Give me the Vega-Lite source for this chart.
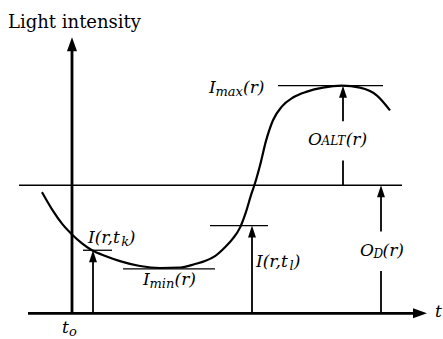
{
  "$schema": "https://vega.github.io/schema/vega-lite/v6.json",
  "width": 443,
  "height": 339,
  "padding": 0,
  "autosize": {"type": "fit", "contains": "padding"},
  "background": "white",
  "config": {"view": {"stroke": null}, "text": {"font": "DejaVu Serif"}},
  "datasets": {
    "curve": [
      {"x": -30, "y": 123}, {"x": -19, "y": 104}, {"x": -10, "y": 91},
      {"x": 0, "y": 80}, {"x": 10, "y": 71}, {"x": 20, "y": 64},
      {"x": 34, "y": 58}, {"x": 48, "y": 53}, {"x": 68, "y": 48},
      {"x": 88, "y": 46}, {"x": 108, "y": 46.5}, {"x": 123, "y": 50},
      {"x": 133, "y": 53}, {"x": 143, "y": 58}, {"x": 153, "y": 67},
      {"x": 161, "y": 76}, {"x": 168, "y": 87}, {"x": 174, "y": 103},
      {"x": 179, "y": 120}, {"x": 183, "y": 132}, {"x": 188, "y": 150},
      {"x": 194, "y": 175}, {"x": 201, "y": 196}, {"x": 210, "y": 210},
      {"x": 221, "y": 219}, {"x": 235, "y": 225}, {"x": 251, "y": 229},
      {"x": 270, "y": 231}, {"x": 288, "y": 229}, {"x": 305, "y": 221},
      {"x": 318, "y": 206}
    ],
    "segments": [
      {"kind": "axis", "x": 0, "y": 0, "x2": 0, "y2": 268},
      {"kind": "axis", "x": -44, "y": 0, "x2": 342, "y2": 0},
      {"kind": "guide", "x": -53, "y": 130, "x2": 330, "y2": 130},
      {"kind": "guide", "x": 206, "y": 231, "x2": 311, "y2": 231},
      {"kind": "guide", "x": 51, "y": 45, "x2": 143, "y2": 45},
      {"kind": "guide", "x": 138, "y": 89, "x2": 196, "y2": 89},
      {"kind": "guide", "x": 11, "y": 64, "x2": 40, "y2": 64},
      {"kind": "stem", "x": 21, "y": 0, "x2": 21, "y2": 56},
      {"kind": "stem", "x": 180, "y": 0, "x2": 180, "y2": 81},
      {"kind": "stem", "x": 309, "y": 0, "x2": 309, "y2": 43},
      {"kind": "stem", "x": 309, "y": 83, "x2": 309, "y2": 122},
      {"kind": "stem", "x": 271, "y": 130, "x2": 271, "y2": 155},
      {"kind": "stem", "x": 271, "y": 195, "x2": 271, "y2": 223}
    ],
    "heads": [
      {"kind": "axis", "dir": "up", "x": 0, "y": 273},
      {"kind": "axis", "dir": "right", "x": 348, "y": 0},
      {"kind": "stem", "dir": "up", "x": 21, "y": 58},
      {"kind": "stem", "dir": "up", "x": 180, "y": 83},
      {"kind": "stem", "dir": "up", "x": 309, "y": 124},
      {"kind": "stem", "dir": "up", "x": 271, "y": 225}
    ],
    "labels": [
      {"role": "title", "x": -64, "y": 290, "text": "Light intensity"},
      {"role": "main", "x": 137, "y": 224, "text": "I"},
      {"role": "sub", "x": 143.5, "y": 221, "text": "max"},
      {"role": "main", "x": 171, "y": 224, "text": "(r)"},
      {"role": "main", "x": 236, "y": 171, "text": "O"},
      {"role": "caps", "x": 249.6, "y": 171, "text": "ALT"},
      {"role": "main", "x": 273.7, "y": 171, "text": "(r)"},
      {"role": "main", "x": 288, "y": 58, "text": "O"},
      {"role": "caps", "x": 301.4, "y": 56, "text": "D"},
      {"role": "main", "x": 310.6, "y": 58, "text": "(r)"},
      {"role": "main", "x": 184, "y": 47, "text": "I(r,t"},
      {"role": "sub", "x": 217.5, "y": 44, "text": "l"},
      {"role": "main", "x": 221.7, "y": 47, "text": ")"},
      {"role": "main", "x": 16, "y": 71, "text": "I(r,t"},
      {"role": "sub", "x": 49.3, "y": 68, "text": "k"},
      {"role": "main", "x": 56.8, "y": 71, "text": ")"},
      {"role": "main", "x": 71, "y": 29, "text": "I"},
      {"role": "sub", "x": 77.5, "y": 26, "text": "min"},
      {"role": "main", "x": 102.5, "y": 29, "text": "(r)"},
      {"role": "main", "x": -10, "y": -20, "text": "t"},
      {"role": "sub", "x": -3, "y": -23, "text": "o"},
      {"role": "main", "x": 363, "y": -4, "text": "t"}
    ]
  },
  "layer": [
    {
      "data": {"name": "curve"},
      "mark": {"type": "line", "interpolate": "monotone", "color": "black", "strokeWidth": 2.2},
      "encoding": {
        "x": {"field": "x", "type": "quantitative", "scale": {"domain": [-72, 371], "nice": false, "zero": false}, "axis": null},
        "y": {"field": "y", "type": "quantitative", "scale": {"domain": [-21, 318], "nice": false, "zero": false}, "axis": null}
      }
    },
    {
      "data": {"name": "segments"},
      "transform": [{"filter": "datum.kind === 'axis'"}],
      "mark": {"type": "rule", "color": "black", "strokeWidth": 2.8},
      "encoding": {
        "x": {"field": "x", "type": "quantitative", "scale": {"domain": [-72, 371], "nice": false, "zero": false}, "axis": null},
        "y": {"field": "y", "type": "quantitative", "scale": {"domain": [-21, 318], "nice": false, "zero": false}, "axis": null},
        "x2": {"field": "x2"},
        "y2": {"field": "y2"}
      }
    },
    {
      "data": {"name": "segments"},
      "transform": [{"filter": "datum.kind === 'guide'"}],
      "mark": {"type": "rule", "color": "black", "strokeWidth": 1.3},
      "encoding": {
        "x": {"field": "x", "type": "quantitative", "scale": {"domain": [-72, 371], "nice": false, "zero": false}, "axis": null},
        "y": {"field": "y", "type": "quantitative", "scale": {"domain": [-21, 318], "nice": false, "zero": false}, "axis": null},
        "x2": {"field": "x2"},
        "y2": {"field": "y2"}
      }
    },
    {
      "data": {"name": "segments"},
      "transform": [{"filter": "datum.kind === 'stem'"}],
      "mark": {"type": "rule", "color": "black", "strokeWidth": 1.8},
      "encoding": {
        "x": {"field": "x", "type": "quantitative", "scale": {"domain": [-72, 371], "nice": false, "zero": false}, "axis": null},
        "y": {"field": "y", "type": "quantitative", "scale": {"domain": [-21, 318], "nice": false, "zero": false}, "axis": null},
        "x2": {"field": "x2"},
        "y2": {"field": "y2"}
      }
    },
    {
      "data": {"name": "heads"},
      "transform": [{"filter": "datum.kind === 'axis' && datum.dir === 'up'"}],
      "mark": {"type": "point", "shape": "M0,-1L0.72,1L-0.72,1Z", "size": 196, "filled": true, "color": "black", "opacity": 1},
      "encoding": {
        "x": {"field": "x", "type": "quantitative", "scale": {"domain": [-72, 371], "nice": false, "zero": false}, "axis": null},
        "y": {"field": "y", "type": "quantitative", "scale": {"domain": [-21, 318], "nice": false, "zero": false}, "axis": null}
      }
    },
    {
      "data": {"name": "heads"},
      "transform": [{"filter": "datum.kind === 'axis' && datum.dir === 'right'"}],
      "mark": {"type": "point", "shape": "M0,-1L0.72,1L-0.72,1Z", "size": 196, "angle": 90, "filled": true, "color": "black", "opacity": 1},
      "encoding": {
        "x": {"field": "x", "type": "quantitative", "scale": {"domain": [-72, 371], "nice": false, "zero": false}, "axis": null},
        "y": {"field": "y", "type": "quantitative", "scale": {"domain": [-21, 318], "nice": false, "zero": false}, "axis": null}
      }
    },
    {
      "data": {"name": "heads"},
      "transform": [{"filter": "datum.kind === 'stem'"}],
      "mark": {"type": "point", "shape": "M0,-1L0.66,1L-0.66,1Z", "size": 144, "filled": true, "color": "black", "opacity": 1},
      "encoding": {
        "x": {"field": "x", "type": "quantitative", "scale": {"domain": [-72, 371], "nice": false, "zero": false}, "axis": null},
        "y": {"field": "y", "type": "quantitative", "scale": {"domain": [-21, 318], "nice": false, "zero": false}, "axis": null}
      }
    },
    {
      "data": {"name": "labels"},
      "transform": [{"filter": "datum.role === 'title'"}],
      "mark": {"type": "text", "font": "DejaVu Serif", "fontSize": 18, "align": "left", "baseline": "alphabetic", "color": "black"},
      "encoding": {
        "x": {"field": "x", "type": "quantitative", "scale": {"domain": [-72, 371], "nice": false, "zero": false}, "axis": null},
        "y": {"field": "y", "type": "quantitative", "scale": {"domain": [-21, 318], "nice": false, "zero": false}, "axis": null},
        "text": {"field": "text"}
      }
    },
    {
      "data": {"name": "labels"},
      "transform": [{"filter": "datum.role === 'main'"}],
      "mark": {"type": "text", "font": "DejaVu Serif", "fontStyle": "italic", "fontSize": 17, "align": "left", "baseline": "alphabetic", "color": "black"},
      "encoding": {
        "x": {"field": "x", "type": "quantitative", "scale": {"domain": [-72, 371], "nice": false, "zero": false}, "axis": null},
        "y": {"field": "y", "type": "quantitative", "scale": {"domain": [-21, 318], "nice": false, "zero": false}, "axis": null},
        "text": {"field": "text"}
      }
    },
    {
      "data": {"name": "labels"},
      "transform": [{"filter": "datum.role === 'sub'"}],
      "mark": {"type": "text", "font": "DejaVu Serif", "fontStyle": "italic", "fontSize": 13, "align": "left", "baseline": "alphabetic", "color": "black"},
      "encoding": {
        "x": {"field": "x", "type": "quantitative", "scale": {"domain": [-72, 371], "nice": false, "zero": false}, "axis": null},
        "y": {"field": "y", "type": "quantitative", "scale": {"domain": [-21, 318], "nice": false, "zero": false}, "axis": null},
        "text": {"field": "text"}
      }
    },
    {
      "data": {"name": "labels"},
      "transform": [{"filter": "datum.role === 'caps'"}],
      "mark": {"type": "text", "font": "DejaVu Serif", "fontStyle": "italic", "fontSize": 12, "align": "left", "baseline": "alphabetic", "color": "black"},
      "encoding": {
        "x": {"field": "x", "type": "quantitative", "scale": {"domain": [-72, 371], "nice": false, "zero": false}, "axis": null},
        "y": {"field": "y", "type": "quantitative", "scale": {"domain": [-21, 318], "nice": false, "zero": false}, "axis": null},
        "text": {"field": "text"}
      }
    }
  ]
}
